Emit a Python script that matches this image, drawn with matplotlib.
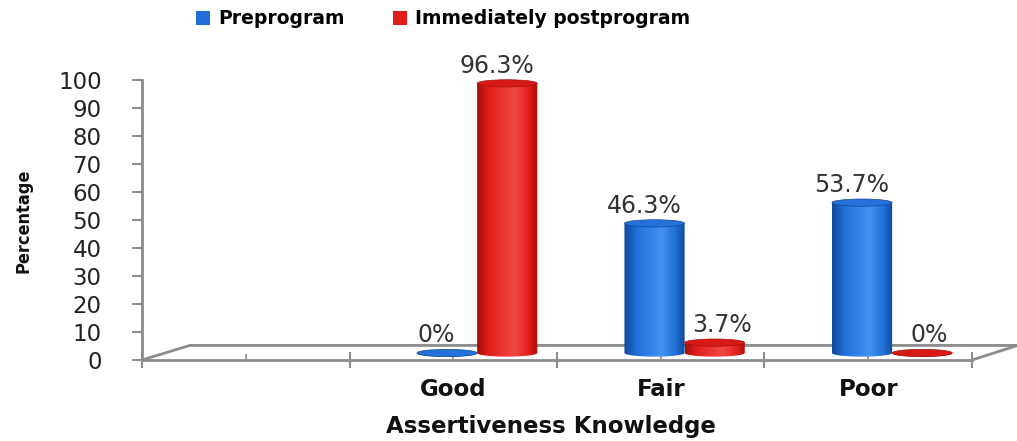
import numpy as np
import matplotlib
matplotlib.use("Agg")
import matplotlib.pyplot as plt
from matplotlib.path import Path
from matplotlib.patches import PathPatch, Ellipse, Patch
from matplotlib.colors import LinearSegmentedColormap

categories = ['Good', 'Fair', 'Poor']
preprogram = [0, 46.3, 53.7]
postprogram = [96.3, 3.7, 0]
series_names = ['Preprogram', 'Immediately postprogram']
yticks = [0, 10, 20, 30, 40, 50, 60, 70, 80, 90, 100]

# colours of the cylinders: dark edge, body, highlight, top
blue = ['#13489a', '#1f6fd6', '#4593f2', '#2471d8']
red = ['#a50f0c', '#e21f1b', '#f24a45', '#d81a16']

def make_cmap(c):
    return LinearSegmentedColormap.from_list(
        'cyl', [(0, c[0]), (0.2, c[1]), (0.62, c[2]), (0.85, c[1]), (1, c[0])])

def cylinder(ax, xc, base, value, w, eh, c, z):
    top = base + value
    x0, x1 = xc - w / 2, xc + w / 2
    t = np.linspace(np.pi, 2 * np.pi, 60)
    verts = [(x0, top)] + list(zip(xc + w / 2 * np.cos(t), base + eh / 2 * np.sin(t))) + [(x1, top), (x0, top)]
    patch = PathPatch(Path(verts), facecolor='none', edgecolor='none', zorder=z)
    ax.add_patch(patch)
    grad = np.linspace(0, 1, 256).reshape(1, -1)
    im = ax.imshow(grad, extent=[x0, x1, base - eh / 2, top], aspect='auto',
                   cmap=make_cmap(c), zorder=z, interpolation='bilinear')
    im.set_clip_path(patch)
    ax.add_patch(Ellipse((xc, top), w, eh, facecolor=c[3], edgecolor=c[0],
                         lw=0.5, zorder=z + 0.1, clip_on=False))
    return top

fig = plt.figure(figsize=(10.17, 4.41), dpi=100)
ax = fig.add_axes([142 / 1017, 81 / 441, 830 / 1017, 280 / 441])

gray = '#8c8c8c'
w = 0.29       # bar width in category units
eh = 2.6       # ellipse height in percent units
base = 2.5     # bars stand in the middle of the floor depth
depth_dx = 0.115

for i, cat in enumerate(categories):
    slot = i + 1
    centre = slot + 0.5 + depth_dx
    pair = [preprogram[i], postprogram[i]]
    for j, col in enumerate([blue, red]):
        v = pair[j]
        xc = centre + (j - 0.5) * w
        top = cylinder(ax, xc, base, v, w, eh, col, 3 + i + j * 0.5)
        # a short bar next to a taller one gets its label pushed right
        dx = 0.035 if (j == 1 and pair[0] > v + 8) else -0.05
        ax.text(xc + dx, top + 6.3, f'{v:g}%', ha='center', va='center',
                fontsize=17, color='#333333', zorder=10)

# floor of the 3D plot
ax.plot([0, 0.23, 4.22, 4.0], [0, 5.2, 5.2, 0], color=gray, lw=2,
        clip_on=False, zorder=1, solid_joinstyle='miter')

ax.set_xlim(0, 4)
ax.set_ylim(0, 100)
ax.set_yticks(yticks)
ax.tick_params(axis='y', direction='out', length=7, width=1.5, color=gray,
               labelsize=16.5, labelcolor='#222222', pad=22)
ax.set_xticks([0, 1, 2, 3, 4])
ax.set_xticklabels([])
ax.tick_params(axis='x', which='major', direction='inout', length=11, width=1.5, color=gray)
ax.set_xticks([0.5] + [k + 1.5 for k in range(len(categories))], minor=True)
ax.set_xticklabels([''] + categories, minor=True, fontsize=16.5, fontweight='bold', color='#111111')
ax.tick_params(axis='x', which='minor', direction='in', length=4, width=1.2, color=gray, pad=13)

for s in ['top', 'right']:
    ax.spines[s].set_visible(False)
for s in ['left', 'bottom']:
    ax.spines[s].set_color(gray)
    ax.spines[s].set_linewidth(2)

fig.text(23 / 1017, 1 - 221 / 441, 'Percentage', rotation=90, ha='center', va='center',
         fontsize=13, fontweight='bold', fontstretch='condensed',
         family=['Liberation Sans Narrow', 'DejaVu Sans'], color='#111111')
fig.text(551 / 1017, 1 - 427 / 441, 'Assertiveness Knowledge', ha='center', va='center',
         fontsize=16.5, fontweight='bold', color='#111111')

handles = [Patch(facecolor=blue[1]), Patch(facecolor=red[1])]
fig.legend(handles, series_names, loc='center', bbox_to_anchor=(443 / 1017, 1 - 19 / 441),
           ncol=2, frameon=False, handlelength=0.75, handleheight=0.75, handletextpad=0.4,
           columnspacing=2.6, prop={'weight': 'bold', 'size': 13.5})

fig.savefig('out.png', dpi=100, facecolor='white')
